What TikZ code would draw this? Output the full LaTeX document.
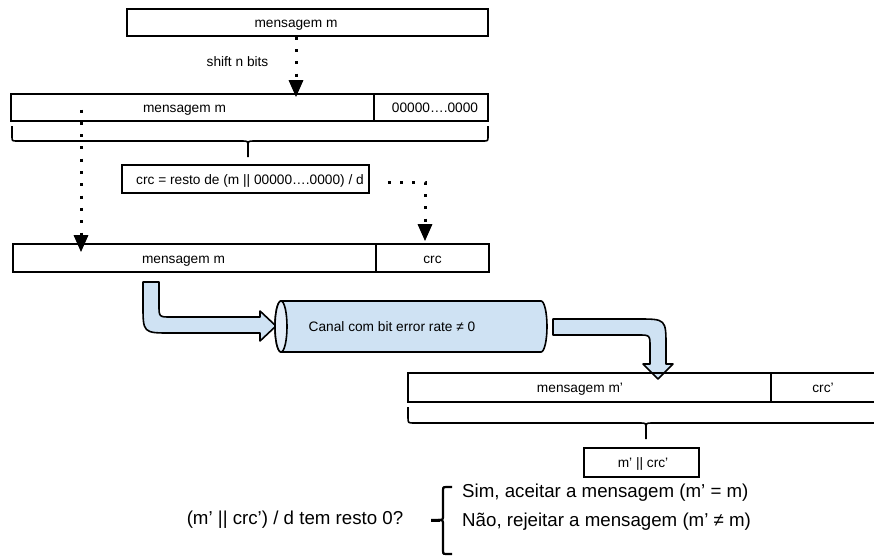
\documentclass[tikz,border=0pt]{standalone}
\usepackage{fontspec}
\setmainfont{Liberation Sans}
\usetikzlibrary{arrows.meta}
\definecolor{chblue}{HTML}{CFE2F3}
\definecolor{chcap}{HTML}{E3EDF8}
\newcommand\smallfnt{\fontsize{13.7pt}{16pt}\selectfont}
\newcommand\bigfnt{\fontsize{18.7pt}{22pt}\selectfont}
\begin{document}
\begin{tikzpicture}[x=1pt,y=-1pt,
  box/.style={draw,line width=1.6pt,inner sep=0pt,minimum height=27pt,font=\smallfnt,
     text height=10pt,text depth=0pt},
  lbl/.style={inner sep=0pt,font=\smallfnt},
  dotarrow/.style={line width=3pt,line cap=butt,dash pattern=on 3pt off 9.3pt,
     -{Triangle[width=14pt,length=17pt]}},
  barrow/.style={fill=chblue,draw=black,line width=1.6pt,line join=round},
  bracestyle/.style={line width=1.6pt,line join=round},
  qtext/.style={inner sep=0pt,font=\bigfnt}]
\useasboundingbox (0,0) rectangle (874,557);
\clip (0,0) rectangle (874,557);

% top message
\node[box,minimum width=361pt] (top) at (307.5,22.5) {mensagem m\hspace*{23pt}};
\node[lbl] (shift) at (237.5,62) {shift n bits};

% row 2
\node[box,minimum width=363pt] (r2m) at (192.5,107.5) {mensagem m\hspace*{16pt}};
\node[box,minimum width=114pt] (r2z) at (431,107.5) {\hspace*{8pt}00000….0000};

% brace row 2
\draw[bracestyle] (12,126) -- (12,136) .. controls (12,141) .. (17,141) -- (242,141)
   .. controls (248,141) .. (248,147) -- (248,157);
\draw[bracestyle] (488,126) -- (488,136) .. controls (488,141) .. (483,141) -- (254,141)
   .. controls (248,141) .. (248,147);

% crc box
\node[box,minimum width=247pt,minimum height=28pt] (crcbox) at (245.5,179) {\hspace*{9pt}crc = resto de (m || 00000….0000) / d};

% row 3
\node[box,minimum width=363pt,minimum height=28pt] (r3m) at (194.5,258) {mensagem m\hspace*{22pt}};
\node[box,minimum width=113pt,minimum height=28pt] (r3c) at (432.5,258) {crc};

% dotted arrows
\draw[dotarrow] ([xshift=-11.5pt]top.south) -- ([xshift=103.5pt,yshift=-4pt]r2m.north);
\draw[dotarrow] ([xshift=-111.5pt,yshift=-2pt]r2m.center) -- ([xshift=-113.5pt,yshift=-9pt]r3m.north);
\draw[dotarrow] ([xshift=18pt,yshift=-3pt]crcbox.east) -| ([xshift=-7.5pt,yshift=2pt]r3c.north);

% block arrow 1
\draw[barrow] (143,282) -- (143,305) .. controls (143,333) .. (171,333) -- (260,333)
   -- (260,341) -- (276,326) -- (260,311) -- (260,317) -- (171,317)
   .. controls (159,317) .. (159,305) -- (159,282) -- cycle;

% channel cylinder
\draw[fill=chblue,line width=1.6pt] (281,301) -- (541,301)
   arc[start angle=90,end angle=-90,x radius=6pt,y radius=25.5pt] -- (281,352)
   arc[start angle=270,end angle=90,x radius=6pt,y radius=25.5pt] -- cycle;
\draw[fill=chcap,line width=1.6pt] (281,326.5) ellipse[x radius=6pt,y radius=25.5pt];
\node[lbl] (canal) at (392,327) {Canal com bit error rate ≠ 0};

% block arrow 2
\draw[barrow] (553,319) -- (638,319) .. controls (666,319) .. (666,347) -- (666,364)
   -- (673,364) -- (658,379) -- (643,364) -- (650,364) -- (650,347)
   .. controls (650,335) .. (638,335) -- (553,335) -- cycle;

% row 4
\node[box,minimum width=363pt,minimum height=29pt] (r4m) at (589.5,387.5) {mensagem m'\hspace*{19pt}};
\node[box,minimum width=114pt,minimum height=29pt] (r4c) at (828,387.5) {crc'\hspace*{10pt}};

% brace row 4
\draw[bracestyle] (408,407) -- (408,417) .. controls (408,423) .. (414,423) -- (640,423)
   .. controls (646,423) .. (646,429) -- (646,439);
\draw[bracestyle] (884,407) -- (884,417) .. controls (884,423) .. (878,423) -- (652,423)
   .. controls (646,423) .. (646,429);

\node[box,minimum width=115pt,minimum height=29pt] (cat) at (641.5,462.5) {\hspace*{3pt}m' || crc'};

% question
\node[qtext] (q) at (295,520) {(m’ || crc’) / d tem resto 0?};
\node[qtext,anchor=west] (sim) at (462,493) {Sim, aceitar a mensagem (m’ = m)};
\node[qtext,anchor=west] (nao) at (462,522) {Não, rejeitar a mensagem (m’ ≠ m)};

\draw[line width=2.2pt,line join=round] (452,487) -- (446,487) .. controls (443,487) .. (443,490)
   -- (443,515) .. controls (443,520) .. (438,520) -- (431,520);
\draw[line width=2.2pt,line join=round] (438,520) .. controls (443,520) .. (443,525)
   -- (443,551) .. controls (443,554) .. (446,554) -- (452,554);
\draw[line width=3pt] (431,520) -- (440,520);
\end{tikzpicture}
\end{document}
